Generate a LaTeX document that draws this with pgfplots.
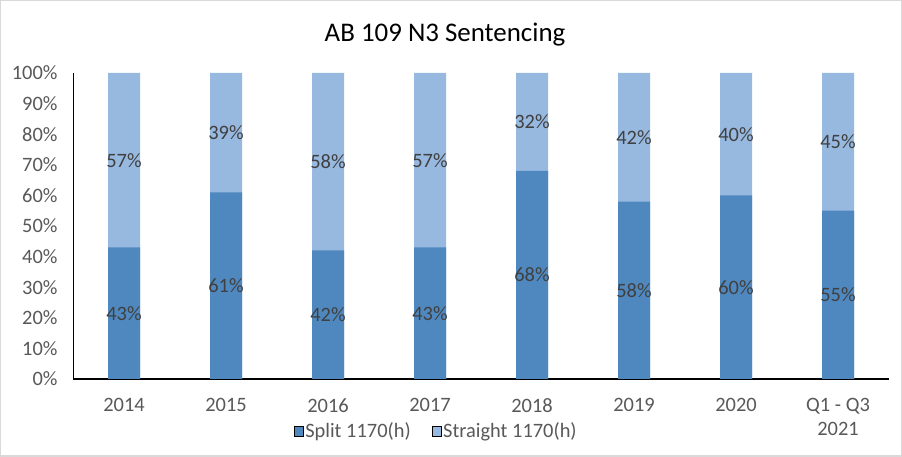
\documentclass[border=0pt]{standalone}
\usepackage{pgfplots}
\pgfplotsset{compat=1.18}
\usepackage{pgfplotstable}
\usepackage{fontspec}
\setmainfont{Carlito}
\definecolor{splitc}{HTML}{4F88BF}
\definecolor{straightc}{HTML}{97B9E0}
\definecolor{tickc}{HTML}{595959}
\definecolor{labc}{HTML}{404040}
\pgfplotstableread{
x split straight
0 43 57
1 61 39
2 42 58
3 43 57
4 68 32
5 58 42
6 60 40
7 55 45
}\datatable
\pgfkeys{/pgf/number format/assume math mode=true}
\begin{document}
\begin{tikzpicture}[x=1bp,y=1bp]
\fill[white] (0,0) rectangle (902,457);
\draw[color=black!15, line width=1.5bp] (0.75,0.75) rectangle (901.25,456.25);
\node[font=\fontsize{27}{32}\selectfont] at (445,422) {AB 109 N3 Sentencing};
\begin{axis}[
  at={(73bp,78bp)}, anchor=south west,
  scale only axis, width=816bp, height=306bp,
  xmin=-0.5, xmax=7.5, ymin=0, ymax=100,
  axis x line*=bottom, axis y line*=left,
  axis line style={-},
  x axis line style={line width=2bp, black},
  y axis line style={line width=1bp, black},
  major tick length=0pt,
  xtick={0,...,7},
  xticklabels={2014,2015,2016,2017,2018,2019,2020,{Q1 - Q3\\2021}},
  ytick={0,10,...,100},
  yticklabels={0\%,10\%,20\%,30\%,40\%,50\%,60\%,70\%,80\%,90\%,100\%},
  ticklabel style={font=\fontsize{20.5}{24}\selectfont, text=tickc},
  xticklabel style={align=center, anchor=north, yshift=-16bp},
  yticklabel style={anchor=east, xshift=-12bp},
  bar width=32bp,
  legend style={at={(0.4452,-0.1705)}, anchor=center, draw=none, fill=none,
    legend columns=2, font=\fontsize{20.5}{24}\selectfont, text=tickc,
    nodes={inner xsep=1.5bp},
    /tikz/every even column/.append style={column sep=20bp}},
  legend image code/.code={\fill[#1] (0bp,-5bp) rectangle (9bp,5bp);},
  clip=false,
]
\addlegendimage{fill=splitc}
\addlegendentry{Split 1170(h)}
\addlegendimage{fill=straightc}
\addlegendentry{Straight 1170(h)}
\addplot[ybar, bar shift=0pt, bar width=32bp, fill=straightc, draw=none, forget plot]
  table[x=x, y expr=\thisrow{split}+\thisrow{straight}] {\datatable};
\addplot[ybar, bar shift=0pt, bar width=32bp, fill=splitc, draw=none, forget plot]
  table[x=x, y=split] {\datatable};
\addplot[draw=none, mark=none, forget plot,
  nodes near coords={\pgfmathprintnumber[fixed,precision=0]{\pgfplotspointmeta}\%},
  point meta=explicit,
  every node near coord/.append style={anchor=center, font=\fontsize{20.5}{24}\selectfont, text=labc}]
  table[x=x, y expr=\thisrow{split}/2, meta=split] {\datatable};
\addplot[draw=none, mark=none, forget plot,
  nodes near coords={\pgfmathprintnumber[fixed,precision=0]{\pgfplotspointmeta}\%},
  point meta=explicit,
  every node near coord/.append style={anchor=center, font=\fontsize{20.5}{24}\selectfont, text=labc}]
  table[x=x, y expr=\thisrow{split}+\thisrow{straight}/2, meta=straight] {\datatable};
\end{axis}
\end{tikzpicture}
\end{document}
